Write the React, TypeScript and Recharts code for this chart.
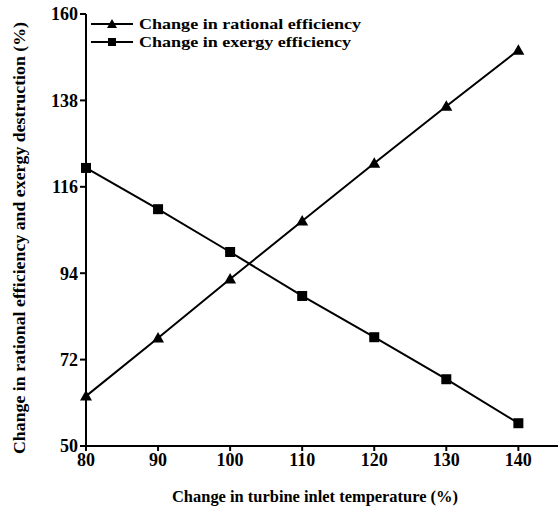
import React from 'react';
import { LineChart, Line, XAxis, YAxis } from 'recharts';

const temps = [80, 90, 100, 110, 120, 130, 140];
const rationalEff = [62.7, 77.5, 92.5, 107.3, 122, 136.5, 150.8];
const exergyEff = [120.8, 110.3, 99.4, 88.2, 77.7, 67, 55.8];
const xTicks = [80, 90, 100, 110, 120, 130, 140];
const yTicks = [50, 72, 94, 116, 138, 160];
const seriesNames = ['Change in rational efficiency', 'Change in exergy efficiency'];
const xTitle = 'Change in turbine inlet temperature (%)';
const yTitle = 'Change in rational efficiency and exergy destruction (%)';

const data = temps.map((t, i) => ({ t, rational: rationalEff[i], exergy: exergyEff[i] }));

const FONT = '"Liberation Serif", "Times New Roman", serif';

const Triangle = (props: any) => {
  const { cx, cy } = props;
  if (cx == null || cy == null) return null;
  return <path key={`tri-${cx}`} d={`M${cx},${cy - 6}L${cx + 6},${cy + 4.5}L${cx - 6},${cy + 4.5}Z`} fill="#000" />;
};

const Square = (props: any) => {
  const { cx, cy } = props;
  if (cx == null || cy == null) return null;
  return <rect key={`sq-${cx}`} x={cx - 5} y={cy - 5} width={10} height={10} fill="#000" />;
};

// axis titles and legend drawn in an overlay so recharts doesn't wrap or reflow them
const Overlay = () => (
  <svg width={559} height={513} style={{ position: 'absolute', left: 0, top: 0, pointerEvents: 'none' }}>
    <text x={315} y={502} textAnchor="middle" fontFamily={FONT} fontWeight="bold" fontSize={16} fill="#000" textLength={286} lengthAdjust="spacingAndGlyphs">{xTitle}</text>
    <g transform="translate(25,238)">
      <text x={0} y={0} transform="rotate(-90)" textAnchor="middle" fontFamily={FONT} fontWeight="bold" fontSize={16} fill="#000" textLength={432} lengthAdjust="spacingAndGlyphs">{yTitle}</text>
    </g>
    <g transform="translate(88,14)">
      <line x1={3} y1={10} x2={45} y2={10} stroke="#000" strokeWidth={2} />
      <path d="M24,5L29,14L19,14Z" fill="#000" />
      <text x={51} y={15} fontFamily={FONT} fontWeight="bold" fontSize={15.5} textLength={222} lengthAdjust="spacingAndGlyphs">{seriesNames[0]}</text>
      <line x1={3} y1={28} x2={45} y2={28} stroke="#000" strokeWidth={2} />
      <rect x={20} y={24} width={8} height={8} fill="#000" />
      <text x={51} y={33} fontFamily={FONT} fontWeight="bold" fontSize={15.5} textLength={212} lengthAdjust="spacingAndGlyphs">{seriesNames[1]}</text>
    </g>
  </svg>
);

export default function App() {
  return (
    <div style={{ position: 'absolute', left: 0, top: 0, width: 559, height: 513, background: '#fff' }}>
      <LineChart width={559} height={513} data={data} margin={{ top: 14, right: 1, bottom: 0, left: 0 }}>
        <XAxis
          dataKey="t"
          type="number"
          domain={[80, 145.5]}
          ticks={xTicks}
          height={67}
          stroke="#000"
          strokeWidth={2}
          tickSize={5}
          tick={{ fill: '#000', fontFamily: FONT, fontWeight: 'bold', fontSize: 18 }}
        />
        <YAxis
          type="number"
          domain={[50, 160]}
          ticks={yTicks}
          width={86}
          stroke="#000"
          strokeWidth={2}
          tickSize={6}
          tick={{ fill: '#000', fontFamily: FONT, fontWeight: 'bold', fontSize: 18 }}
        />
        <Line dataKey="rational" stroke="#000" strokeWidth={2} dot={Triangle} activeDot={false} isAnimationActive={false} name={seriesNames[0]} />
        <Line dataKey="exergy" stroke="#000" strokeWidth={2} dot={Square} activeDot={false} isAnimationActive={false} name={seriesNames[1]} />
      </LineChart>
      <Overlay />
    </div>
  );
}
